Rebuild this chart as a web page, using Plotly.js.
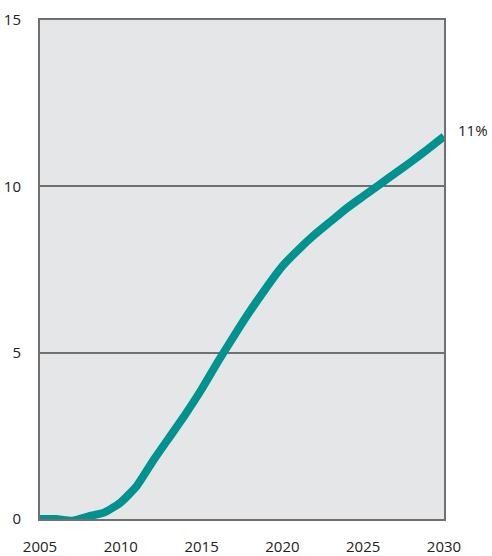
<!DOCTYPE html>
<html>
<head>
<meta charset="utf-8">
<script src="https://cdn.plot.ly/plotly-3.0.1.min.js"></script>
<style>html,body{margin:0;padding:0;background:#fff;}#chart{width:492px;height:556px;}</style>
</head>
<body>
<div id="chart"></div>
<script>
const years = [2005,2006,2007,2008,2009,2010,2011,2012,2013,2014,2015,2016,2017,2018,2019,2020,2021,2022,2023,2024,2025,2026,2027,2028,2029,2030];
const values = [0,0,-0.05,0.08,0.2,0.5,1.0,1.75,2.45,3.15,3.9,4.72,5.5,6.25,6.95,7.6,8.1,8.55,8.95,9.35,9.7,10.05,10.4,10.75,11.12,11.5];
const xTicks = [2005,2010,2015,2020,2025,2030];
const yTicks = [0,5,10,15];
const endLabel = '11%';

const font = {family: 'Open Sans, sans-serif', size: 15, color: '#222'};

Plotly.newPlot('chart', [{
  x: years, y: values, type: 'scatter', mode: 'lines',
  line: {color: '#00928f', width: 8, shape: 'spline', smoothing: 0.5},
  cliponaxis: false, hoverinfo: 'skip'
}], {
  width: 492, height: 556,
  margin: {l: 40, r: 48, t: 20, b: 37},
  paper_bgcolor: '#ffffff', plot_bgcolor: '#e5e6e8',
  showlegend: false,
  font: font,
  xaxis: {range: [2005, 2030], tickvals: xTicks, ticktext: xTicks.map(String),
    showgrid: false, zeroline: false, showline: true, mirror: true,
    linecolor: '#707070', linewidth: 2, ticks: '', ticklabelstandoff: 13, tickfont: font},
  yaxis: {range: [0, 15], tickvals: yTicks, ticktext: yTicks.map(String),
    showgrid: true, gridcolor: '#707070', gridwidth: 2, zeroline: false,
    showline: true, mirror: true, linecolor: '#707070', linewidth: 2,
    ticks: '', ticklabelstandoff: 14, tickfont: font},
  annotations: [{x: years[years.length-1], y: values[values.length-1], text: endLabel,
    xanchor: 'left', yanchor: 'middle', xshift: 12, yshift: 6, showarrow: false, font: font}]
}, {staticPlot: true});
</script>
</body>
</html>
